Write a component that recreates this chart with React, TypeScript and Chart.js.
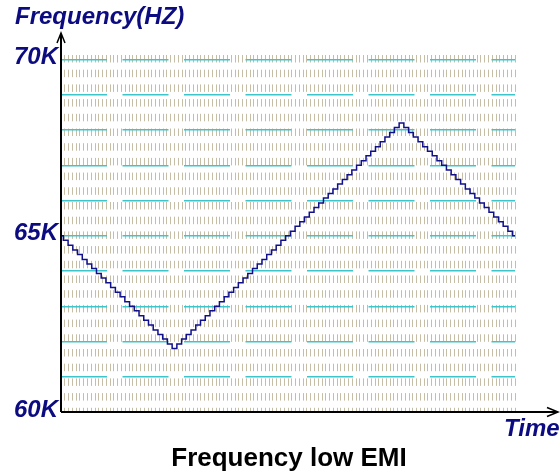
import { useEffect, useRef } from 'react';
import { Chart, registerables } from 'chart.js';

Chart.register(...registerables);

// Frequency (kHz) read per step of the staircase triangular sweep
const rampDown1 = [
  65.0, 64.87, 64.73, 64.6, 64.47, 64.33, 64.2, 64.07, 63.93, 63.8, 63.67, 63.53, 63.4,
  63.27, 63.13, 63.0, 62.87, 62.73, 62.6, 62.47, 62.33, 62.2, 62.07, 61.93, 61.8,
];
const rampUp = [
  61.93, 62.07, 62.2, 62.33, 62.47, 62.6, 62.73, 62.87, 63.0, 63.13, 63.27, 63.4, 63.53,
  63.67, 63.8, 63.93, 64.07, 64.2, 64.33, 64.47, 64.6, 64.73, 64.87, 65.0, 65.13, 65.27,
  65.4, 65.53, 65.67, 65.8, 65.93, 66.07, 66.2, 66.33, 66.47, 66.6, 66.73, 66.87, 67.0,
  67.13, 67.27, 67.4, 67.53, 67.67, 67.8, 67.93, 68.07, 68.2,
];
const rampDown2 = [
  68.07, 67.93, 67.8, 67.67, 67.53, 67.4, 67.27, 67.13, 67.0, 66.87, 66.73, 66.6, 66.47,
  66.33, 66.2, 66.07, 65.93, 65.8, 65.67, 65.53, 65.4, 65.27, 65.13, 65.0,
];
const frequencyK = [...rampDown1, ...rampUp, ...rampDown2];

const yTickValues = [60, 65, 70];
const yTickLabels = ['60K', '65K', '70K'];
const yAxisTitle = 'Frequency(HZ)';
const xAxisTitle = 'Time';
const chartCaption = 'Frequency low EMI';

const NAVY = '#0c0c80';
const FONT = "'Liberation Sans', Arial, sans-serif";

const overlayPlugin = {
  id: 'overlay',
  afterDraw(chart: any) {
    const { ctx, chartArea, scales } = chart;
    const yScale = scales.y;
    const x0 = chartArea.left;
    const y0 = yScale.getPixelForValue(60);
    ctx.save();
    // axes with arrows
    ctx.strokeStyle = '#000';
    ctx.lineWidth = 2;
    ctx.beginPath();
    ctx.moveTo(x0, y0);
    ctx.lineTo(x0, 34);
    ctx.moveTo(x0, y0);
    ctx.lineTo(557, y0);
    ctx.stroke();
    ctx.lineWidth = 1.5;
    ctx.beginPath();
    ctx.moveTo(x0 - 4, 43);
    ctx.lineTo(x0, 33);
    ctx.lineTo(x0 + 4, 43);
    ctx.moveTo(547, y0 - 4.5);
    ctx.lineTo(558, y0);
    ctx.lineTo(547, y0 + 4.5);
    ctx.stroke();

    // y tick labels
    ctx.fillStyle = NAVY;
    ctx.font = `italic bold 24px ${FONT}`;
    ctx.textAlign = 'right';
    ctx.textBaseline = 'middle';
    yTickValues.forEach((v, i) => {
      ctx.fillText(yTickLabels[i], x0 - 3, yScale.getPixelForValue(v) - 2);
    });

    // axis titles
    ctx.textAlign = 'left';
    ctx.textBaseline = 'alphabetic';
    ctx.font = `italic bold 24px ${FONT}`;
    ctx.fillText(yAxisTitle, 15, 24);
    ctx.fillText(xAxisTitle, 504, 436);

    // caption
    ctx.fillStyle = '#000';
    ctx.font = `bold 26px ${FONT}`;
    ctx.textAlign = 'center';
    ctx.fillText(chartCaption, 289, 466);
    ctx.restore();
  },
};

export default function App() {
  const canvasRef = useRef<HTMLCanvasElement>(null);

  useEffect(() => {
    const canvas = canvasRef.current;
    if (!canvas) return;
    const chart = new Chart(canvas, {
      type: 'line',
      data: {
        datasets: [
          {
            data: frequencyK.map((v, i) => ({ x: i, y: v })),
            borderColor: '#10108a',
            borderWidth: 1.5,
            pointRadius: 0,
            stepped: 'middle',
            fill: false,
          },
        ],
      },
      options: {
        responsive: false,
        animation: false,
        events: [],
        layout: { padding: { left: 61, top: 55, right: 45, bottom: 62 } },
        plugins: { legend: { display: false }, tooltip: { enabled: false }, title: { display: false } },
        scales: {
          x: {
            type: 'linear',
            min: 0,
            max: frequencyK.length - 1,
            afterFit: (s: any) => {
              s.height = 0;
            },
            ticks: { display: false, stepSize: 0.8, includeBounds: false },
            grid: { color: '#c6bda6', lineWidth: 1, drawTicks: false },
            border: { display: false, dash: [7.5, 7.2], dashOffset: 0 },
          },
          y: {
            type: 'linear',
            min: 60,
            max: 70.13,
            afterFit: (s: any) => {
              s.width = 0;
            },
            ticks: { display: false, stepSize: 1, includeBounds: false },
            grid: {
              color: (c: any) => {
                const v = c.tick ? c.tick.value : 0;
                return Math.abs(v - Math.round(v)) < 1e-6 && v > 60.5 && v < 70.5 ? '#3cc6cc' : 'rgba(0,0,0,0)';
              },
              lineWidth: 1.5,
              drawTicks: false,
            },
            border: { display: false, dash: [46, 15.5], dashOffset: 0 },
          },
        },
      },
      plugins: [overlayPlugin],
    });
    return () => chart.destroy();
  }, []);

  return (
    <div style={{ position: 'absolute', left: 0, top: 0, width: 560, height: 474, background: '#fff' }}>
      <canvas ref={canvasRef} width={560} height={474} style={{ width: 560, height: 474 }} />
    </div>
  );
}
